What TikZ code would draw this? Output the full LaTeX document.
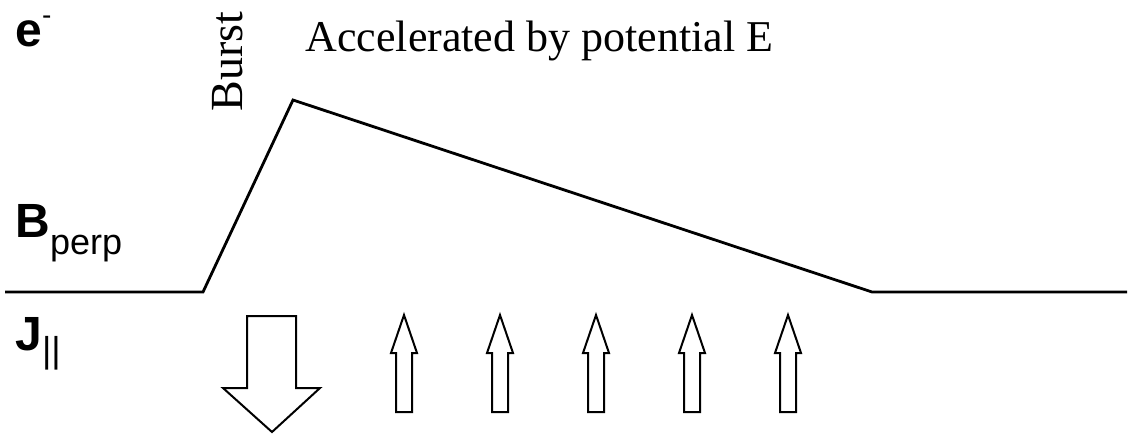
\documentclass[tikz,border=0pt]{standalone}
\usepackage{fontspec}
\setmainfont{Liberation Serif}
\setsansfont{Liberation Sans}
\usetikzlibrary{positioning}

\begin{document}
\begin{tikzpicture}[
  x=0.5pt, y=-0.5pt,
  serif/.style={font=\fontsize{22}{22}\selectfont, inner sep=0pt, anchor=base west},
  sans/.style={font=\sffamily\bfseries\fontsize{24}{24}\selectfont, inner sep=0pt, anchor=base west},
  profile/.style={line width=1.4pt, line join=miter},
  fatarrow/.style={draw, line width=1pt, fill=white, line join=miter}
]
\useasboundingbox (0,0) rectangle (1129,434);

% labels on the left
\node[sans] (elec) at (15,46) {e\raisebox{0.45em}{\mdseries\fontsize{14}{14}\selectfont -}};
\node[sans] (bperp) at (15,237) {B\raisebox{-8.5pt}{\mdseries\fontsize{18}{18}\selectfont perp}};
\node[sans] (jpar) at (15,350) {J\raisebox{-6pt}{\mdseries\fontsize{18}{18}\selectfont ||}};

% top texts
\node[serif, rotate=90] (burst) at (242,112) {\fontsize{23}{23}\selectfont Burst};
\node[serif] (accel) at (305,51) {Accelerated by potential E};

% field profile
\coordinate (p0) at (5,292);
\coordinate (p1) at (203,292);
\coordinate (p2) at (293,100);
\coordinate (p3) at (872,292);
\coordinate (p4) at (1127,292);
\draw[profile] (p0) -- (p1) -- (p2) -- (p3) -- (p4);

% burst current (down)
\draw[fatarrow] (247,316) -- (296,316) -- (296,388) -- (320,388) -- (272,432)
  -- (223,388) -- (247,388) -- cycle;

% return currents (up)
\foreach \c in {404,500,596,692,788}
  \draw[fatarrow] (\c-8,412) -- (\c-8,353) -- (\c-13,353) -- (\c,315)
    -- (\c+13,353) -- (\c+8,353) -- (\c+8,412) -- cycle;

\end{tikzpicture}
\end{document}
